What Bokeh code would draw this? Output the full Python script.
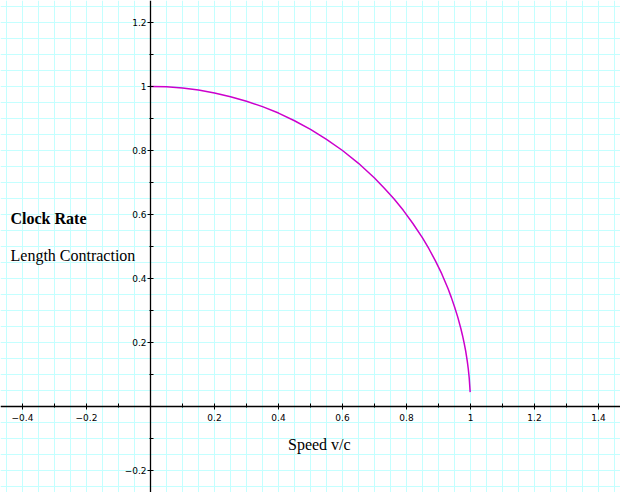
from bokeh.plotting import figure
from bokeh.models import FixedTicker, Label, Range1d
from bokeh.embed import file_html
from bokeh.resources import INLINE

# Data: clock rate / length contraction vs speed
speed = [0.0, 0.05, 0.1, 0.15, 0.2, 0.25, 0.3, 0.35, 0.4, 0.45, 0.5, 0.55,
         0.6, 0.65, 0.7, 0.73, 0.76, 0.79, 0.82, 0.85, 0.87, 0.89, 0.91,
         0.93, 0.94, 0.95, 0.96, 0.97, 0.975, 0.98, 0.985, 0.99, 0.993,
         0.996, 0.999]
rate = [1.0, 0.999, 0.995, 0.989, 0.980, 0.968, 0.954, 0.937, 0.917, 0.893,
        0.866, 0.835, 0.800, 0.760, 0.714, 0.683, 0.650, 0.613, 0.572, 0.527,
        0.493, 0.456, 0.415, 0.368, 0.341, 0.312, 0.280, 0.243, 0.222, 0.199,
        0.173, 0.141, 0.118, 0.089, 0.045]

x_major = [-0.4, -0.2, 0.2, 0.4, 0.6, 0.8, 1.0, 1.2, 1.4]
x_labels = ["\u22120.4", "\u22120.2", "0.2", "0.4", "0.6", "0.8", "1", "1.2", "1.4"]
x_minor = [-0.3, -0.1, 0.1, 0.3, 0.5, 0.7, 0.9, 1.1, 1.3]
y_major = [-0.2, 0.2, 0.4, 0.6, 0.8, 1.0, 1.2]
y_labels = ["\u22120.2", "0.2", "0.4", "0.6", "0.8", "1", "1.2"]
y_minor = [-0.1, 0.1, 0.3, 0.5, 0.7, 0.9, 1.1]
grid_x = [round(-0.45 + 0.05 * i, 2) for i in range(40)]
grid_y = [round(-0.25 + 0.05 * i, 2) for i in range(31)]

p = figure(width=620, height=492, output_backend="svg", toolbar_location=None,
           x_range=Range1d(-150 / 320, 470 / 320), y_range=Range1d(-86 / 320, 406 / 320),
           min_border=0)
p.outline_line_color = None
p.background_fill_color = "white"

for g, ticks in ((p.xgrid, grid_x), (p.ygrid, grid_y)):
    g.ticker = FixedTicker(ticks=ticks)
    g.grid_line_color = "#c4ffff"
    g.grid_line_width = 1

xa = p.xaxis[0]
ya = p.yaxis[0]
xa.fixed_location = 0
ya.fixed_location = 0
xa.ticker = FixedTicker(ticks=x_major, minor_ticks=x_minor)
ya.ticker = FixedTicker(ticks=y_major, minor_ticks=y_minor)
xa.major_label_overrides = {v: s for v, s in zip(x_major, x_labels)}
ya.major_label_overrides = {v: s for v, s in zip(y_major, y_labels)}
for ax in (xa, ya):
    ax.axis_line_color = "black"
    ax.axis_line_width = 1.3
    ax.major_tick_line_color = "black"
    ax.minor_tick_line_color = "black"
    ax.major_tick_in = 3
    ax.major_tick_out = 3
    ax.minor_tick_in = 3
    ax.minor_tick_out = 1
    ax.major_label_text_font = "DejaVu Sans"
    ax.major_label_text_font_size = "9px"
    ax.major_label_text_color = "black"
xa.major_label_standoff = 4
ya.major_label_standoff = 1

p.line(speed, rate, line_color="#cc00cc", line_width=1.5)

for txt, x, y, style in (("Clock Rate", -0.4375, 0.588, "bold"),
                         ("Length Contraction", -0.4375, 0.472, "normal"),
                         ("Speed v/c", 0.4297, -0.118, "normal")):
    p.add_layout(Label(x=x, y=y, text=txt, text_font="Liberation Serif",
                       text_font_size="16px", text_font_style=style,
                       text_baseline="alphabetic", text_color="black"))

open("out.html", "w").write(file_html(p, INLINE))
